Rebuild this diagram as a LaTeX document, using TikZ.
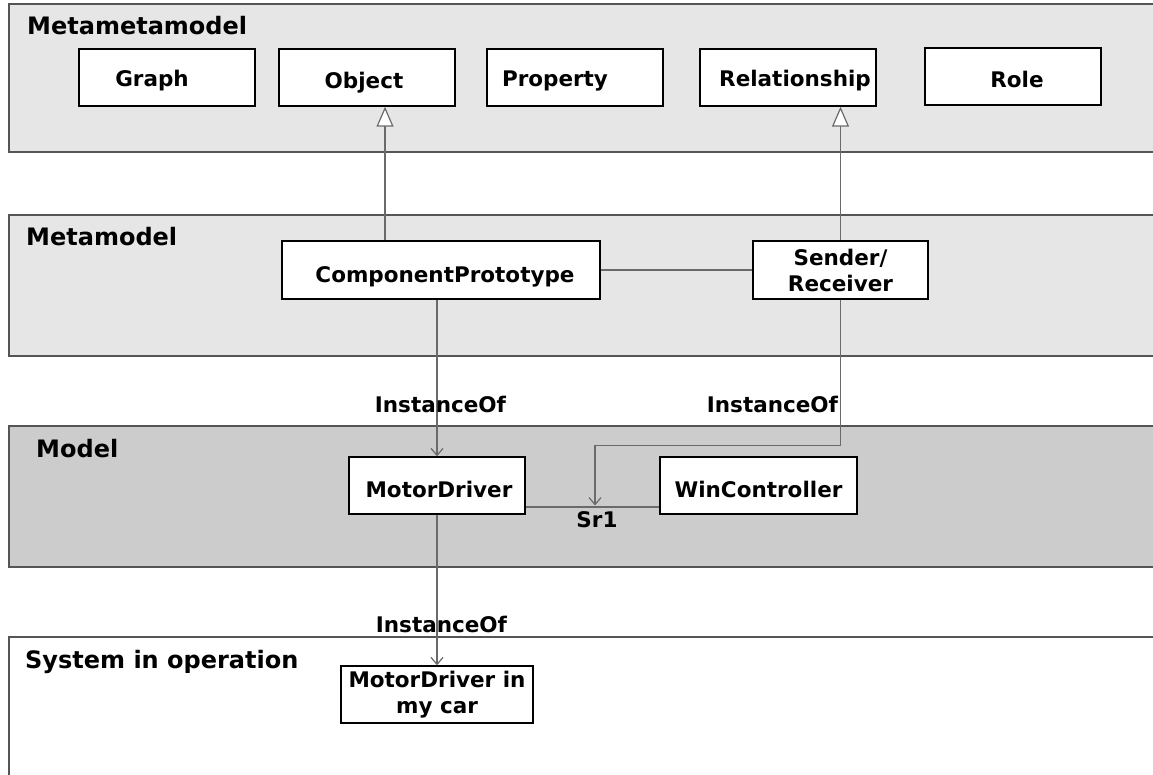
\documentclass[tikz,border=0pt]{standalone}
\usepackage{fontspec}
\setmainfont{DejaVu Sans}
\usetikzlibrary{arrows.meta}
\definecolor{panelA}{HTML}{E6E6E6}
\definecolor{panelB}{HTML}{CCCCCC}
\definecolor{edgegray}{HTML}{555555}
\definecolor{linegray}{HTML}{6A6A6A}
\begin{document}
\begin{tikzpicture}[x=1pt,y=-1pt,
  box/.style={draw=black, line width=1.4pt, fill=white, inner sep=0pt,
    font=\fontsize{21.5}{26}\selectfont\bfseries, text height=17.6pt, text depth=0pt,
    minimum height=57pt},
  boxtwo/.style={draw=black, line width=1.4pt, fill=white, inner sep=0pt, align=center,
    font=\fontsize{21.5}{26}\selectfont\bfseries, minimum height=57pt},
  ptitle/.style={anchor=base west, inner sep=0pt, font=\fontsize{24}{28}\selectfont\bfseries},
  lbl/.style={anchor=base, inner sep=0pt, font=\fontsize{21.5}{26}\selectfont\bfseries},
  panelline/.style={draw=edgegray, line width=1.3pt},
  gen/.style={draw=linegray, line width=1.2pt, -{Triangle[open, length=20pt, width=17pt, fill=white]}},
  inst/.style={draw=linegray, line width=1.2pt, -{Straight Barb[length=7pt, width=12pt]}},
  assoc/.style={draw=linegray, line width=1.2pt},
]
\useasboundingbox (0,0) rectangle (1153,775);
\fill[white] (0,0) rectangle (1153,775);

% panels
\fill[panelA] (9,4) rectangle (1153,152);
\draw[panelline] (1153,4) -- (9,4) -- (9,152) -- (1153,152);
\fill[panelA] (9,215) rectangle (1153,356);
\draw[panelline] (1153,215) -- (9,215) -- (9,356) -- (1153,356);
\fill[panelB] (9,426) rectangle (1153,567);
\draw[panelline] (1153,426) -- (9,426) -- (9,567) -- (1153,567);
\draw[panelline] (1153,637) -- (9,637) -- (9,775);

\node[ptitle] (tmm) at (27,35) {Metametamodel};
\node[ptitle] (tm) at (26,246) {Metamodel};
\node[ptitle] (tmod) at (36,457) {Model};
\node[ptitle] (tsys) at (25,668) {System in operation};

% metametamodel boxes
\node[box, minimum width=176pt] (graph) at (167,77.5) {Graph\kern30pt};
\node[box, minimum width=176pt, text height=21.6pt] (obj) at (367,77.5) {Object\kern6pt};
\node[box, minimum width=176pt] (prop) at (575,77.5) {Property\kern40pt};
\node[box, minimum width=176pt] (rel) at (788,77.5) {\kern14pt Relationship};
\node[box, minimum width=176pt, text height=22.6pt] (role) at (1013,76.5) {\kern8pt Role};

% metamodel boxes
\node[box, minimum width=318pt, minimum height=58pt, text height=24.6pt] (cp) at (441,270) {\kern8pt ComponentPrototype};
\node[boxtwo, minimum width=175pt, minimum height=58pt] (sr) at (840.5,270) {Sender/\\Receiver};

% model boxes
\node[box, minimum width=176pt, text height=23.6pt] (md) at (437,485.5) {\kern4pt MotorDriver};
\node[box, minimum width=197pt, text height=23.6pt] (wc) at (758.5,485.5) {WinController};

% system box
\node[boxtwo, minimum width=192pt] (car) at (437,694.5) {MotorDriver in\\my car};

% connectors
\draw[gen] ([xshift=-56pt]cp.north) -- ([xshift=18pt]obj.south);
\draw[gen] (sr.north) -- ([xshift=52.5pt]rel.south);
\draw[assoc] (cp.east) -- (sr.west);

\coordinate (sr1) at (595,507);
\draw[assoc] (md.east |- sr1) -- (wc.west |- sr1);
\draw[inst] (sr.south) -- ++(0,146) -| ([yshift=1.5pt]sr1);
\draw[inst] ([xshift=-4pt]cp.south) -- (md.north);
\draw[inst] (md.south) -- (car.north);

\node[lbl] (l1) at (440.5,412) {InstanceOf};
\node[lbl] (l2) at (772.5,412) {InstanceOf};
\node[lbl] (l3) at (441.5,632) {InstanceOf};
\node[lbl] (lsr) at (597,527) {Sr1};
\end{tikzpicture}
\end{document}
